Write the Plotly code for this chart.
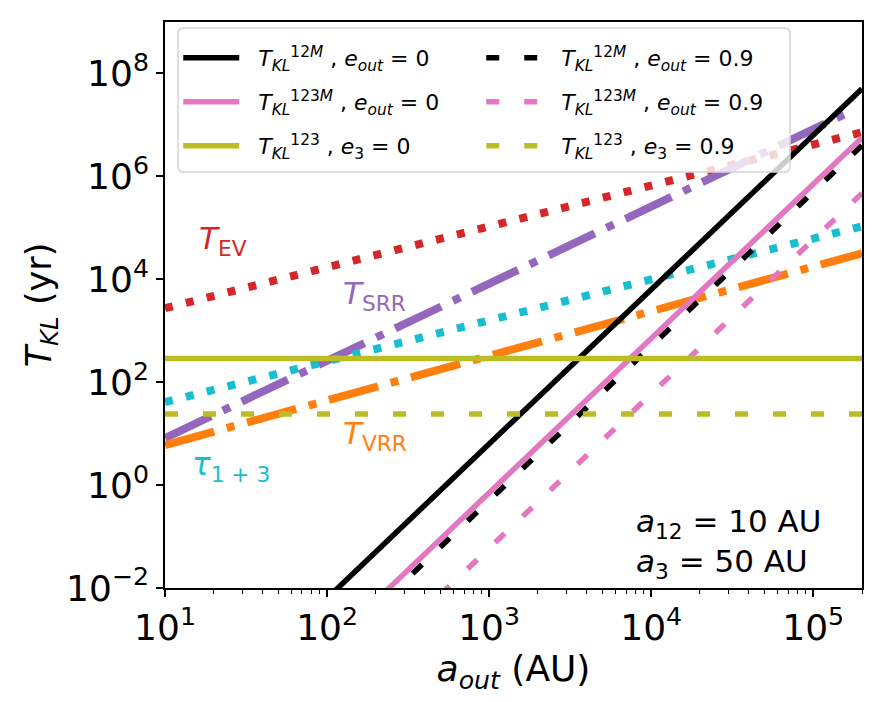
import plotly.graph_objects as go

# ---- data ----
a_out = [10, 2e5]                      # AU, ends of the straight log-log lines
T12M_e0 = [6.3e-6, 5.05e7]
T12M_e09 = [5.0e-7, 4.0e6]
T123M_e0 = [7.1e-7, 5.66e6]
T123M_e09 = [5.9e-8, 4.7e5]
T123_e0 = [290, 290]
T123_e09 = [24, 24]
T_EV = [2735, 7.18e6]
tau13 = [41, 1.07e5]
a_srr = [10, 1.75e5]
T_SRR = [8.2, 1.9e7]
T_VRR = [6.0, 3.2e4]

xtick_vals = [10, 100, 1e3, 1e4, 1e5]
xtick_text = ["10<sup>1</sup>", "10<sup>2</sup>", "10<sup>3</sup>", "10<sup>4</sup>", "10<sup>5</sup>"]
ytick_vals = [1e-2, 1, 1e2, 1e4, 1e6, 1e8]
ytick_text = ["10<sup>−2</sup>", "10<sup>0</sup>", "10<sup>2</sup>", "10<sup>4</sup>", "10<sup>6</sup>", "10<sup>8</sup>"]

BLACK = "#000000"
PINK = "#e377c2"
OLIVE = "#bcbd22"
RED = "#d62728"
CYAN = "#17becf"
PURPLE = "#9467bd"
ORANGE = "#ff7f0e"
FONT = "DejaVu Sans"

TKL = "<i>T</i><sub><i>KL</i></sub>"
NB = "\u00a0\u00a0"
lab = lambda sup, rest: f"{NB}{TKL}<sup>{sup}</sup> , {rest}"

fig = go.Figure()
DASH = "13px,25px"
# background lines (not in legend)
fig.add_trace(go.Scatter(x=a_out, y=T_EV, mode="lines", showlegend=False,
                         line=dict(color=RED, width=8, dash="8px,13.5px")))
fig.add_trace(go.Scatter(x=a_srr, y=T_SRR, mode="lines", showlegend=False,
                         line=dict(color=PURPLE, width=8, dash="51px,13px,8px,13px")))
fig.add_trace(go.Scatter(x=a_out, y=tau13, mode="lines", showlegend=False,
                         line=dict(color=CYAN, width=8, dash="8px,13.5px")))
fig.add_trace(go.Scatter(x=a_out, y=T_VRR, mode="lines", showlegend=False,
                         line=dict(color=ORANGE, width=8, dash="51px,13px,8px,13px")))

# legend lines: one legend per row (2 columns)
fig.add_trace(go.Scatter(x=a_out, y=T12M_e0, mode="lines", legend="legend",
                         name=lab("12<i>M</i>", "<i>e</i><sub><i>out</i></sub> = 0"),
                         line=dict(color=BLACK, width=5.5)))
fig.add_trace(go.Scatter(x=a_out, y=T12M_e09, mode="lines", legend="legend",
                         name=lab("12<i>M</i>", "<i>e</i><sub><i>out</i></sub> = 0.9"),
                         line=dict(color=BLACK, width=5.5, dash=DASH)))
fig.add_trace(go.Scatter(x=a_out, y=T123M_e0, mode="lines", legend="legend2",
                         name=lab("123<i>M</i>", "<i>e</i><sub><i>out</i></sub> = 0"),
                         line=dict(color=PINK, width=5.5)))
fig.add_trace(go.Scatter(x=a_out, y=T123M_e09, mode="lines", legend="legend2",
                         name=lab("123<i>M</i>", "<i>e</i><sub><i>out</i></sub> = 0.9"),
                         line=dict(color=PINK, width=5.5, dash=DASH)))
fig.add_trace(go.Scatter(x=a_out, y=T123_e0, mode="lines", legend="legend3",
                         name=lab("123", "<i>e</i><sub>3</sub> = 0"),
                         line=dict(color=OLIVE, width=5.5)))
fig.add_trace(go.Scatter(x=a_out, y=T123_e09, mode="lines", legend="legend3",
                         name=lab("123", "<i>e</i><sub>3</sub> = 0.9"),
                         line=dict(color=OLIVE, width=5.5, dash=DASH)))

minor_vals = [m * 10 ** d for d in range(1, 6) for m in range(2, 10) if m * 10 ** d <= 2e5]

axis_common = dict(showline=True, linecolor="black", linewidth=1.7, mirror=True,
                   ticks="outside", ticklen=7, tickwidth=1.5, tickcolor="black",
                   showgrid=False, zeroline=False,
                   tickfont=dict(family=FONT, size=36, color="black"))

fig.update_xaxes(type="log", range=[1, 5.30103], tickvals=xtick_vals, ticktext=xtick_text,
                 minor=dict(tickvals=minor_vals, ticks="outside", ticklen=4, tickwidth=1.2, tickcolor="black"),
                 title=dict(text="<i>a</i><sub><i>out</i></sub> (AU)", font=dict(family=FONT, size=36, color="black"),
                            standoff=4),
                 **axis_common)
fig.update_yaxes(type="log", range=[-2, 9], tickvals=ytick_vals, ticktext=ytick_text,
                 title=dict(text="<i>T</i><sub><i>KL</i></sub> (yr)", font=dict(family=FONT, size=35, color="black"),
                            standoff=4),
                 **axis_common)

ann_font = lambda c: dict(family=FONT, size=31, color=c)
annotations = [
    dict(x=1.357, y=4.757, text="<i>T</i><sub>EV</sub>", font=ann_font(RED)),
    dict(x=2.294, y=3.689, text="<i>T</i><sub>SRR</sub>", font=ann_font(PURPLE)),
    dict(x=2.294, y=0.971, text="<i>T</i><sub>VRR</sub>", font=ann_font(ORANGE)),
    dict(x=1.407, y=0.369, text="<i>τ</i><sub>1 + 3</sub>", font=ann_font(CYAN)),
    dict(x=3.895, y=-0.738, text="<i>a</i><sub>12</sub> = 10 AU", font=ann_font("black"), xanchor="left"),
    dict(x=3.895, y=-1.515, text="<i>a</i><sub>3</sub> = 50 AU", font=ann_font("black"), xanchor="left"),
]
for a in annotations:
    a.setdefault("xanchor", "center")
    a.update(xref="x", yref="y", showarrow=False, yanchor="middle")

leg_common = dict(orientation="h", x=0.019, xanchor="left", yanchor="middle",
                  entrywidth=232, entrywidthmode="pixels", itemwidth=56,
                  bgcolor="rgba(0,0,0,0)", borderwidth=0,
                  font=dict(family=FONT, size=22, color="black"))

# legend frame (matplotlib-like rounded, semi-transparent box)
x0, x1, y0, y1, r = 0.0187, 0.8967, 0.735, 0.9894, 0.008
rx, ry = r, r * 697 / 566
frame_path = (f"M{x0+rx},{y1} L{x1-rx},{y1} Q{x1},{y1} {x1},{y1-ry} L{x1},{y0+ry} Q{x1},{y0} {x1-rx},{y0} "
              f"L{x0+rx},{y0} Q{x0},{y0} {x0},{y0+ry} L{x0},{y1-ry} Q{x0},{y1} {x0+rx},{y1} Z")

fig.update_layout(
    width=885, height=702,
    margin=dict(l=165, r=23, t=22, b=114),
    paper_bgcolor="white", plot_bgcolor="white",
    font=dict(family=FONT, color="black"),
    annotations=annotations,
    shapes=[dict(type="path", path=frame_path, xref="paper", yref="paper", layer="above",
                 fillcolor="rgba(255,255,255,0.8)", line=dict(color="#d5d5d5", width=1.5))],
    legend=dict(y=0.9364, **leg_common),
    legend2=dict(y=0.8587, **leg_common),
    legend3=dict(y=0.7809, **leg_common),
)

fig.write_html("out.html")
